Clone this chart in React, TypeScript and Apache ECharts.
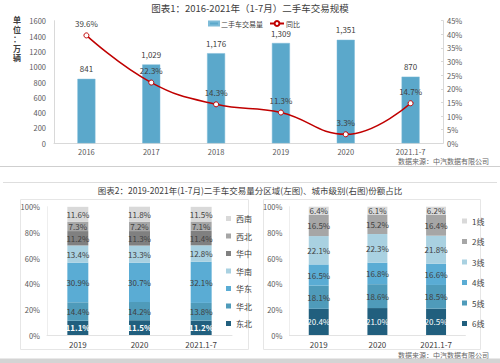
import React, { useEffect, useRef } from "react";
import * as echarts from "echarts";

const years = ["2016", "2017", "2018", "2019", "2020", "2021.1-7"];
const volume = [841, 1029, 1176, 1309, 1351, 870];
const yoy = [39.6, 22.3, 14.3, 11.3, 3.3, 14.7];

const shareCats = ["2019", "2020", "2021.1-7"];
const dongbei = [11.1, 11.5, 11.2];
const huabei = [14.4, 14.2, 13.8];
const huadong = [30.9, 30.7, 32.1];
const huanan = [13.4, 13.3, 12.8];
const huazhong = [11.2, 11.3, 11.4];
const xibei = [7.3, 7.2, 7.1];
const xinan = [11.6, 11.8, 11.5];

const tier6 = [20.4, 21.0, 20.5];
const tier5 = [18.1, 18.6, 18.5];
const tier4 = [16.5, 16.8, 16.6];
const tier3 = [22.1, 22.3, 21.8];
const tier2 = [16.5, 15.2, 16.4];
const tier1 = [6.4, 6.1, 6.2];

const FONT = "'Noto Sans CJK SC', 'Noto Sans', sans-serif";
const AX = "#595959";
const TXT = "#404040";

const regionSeries = [
  { name: "东北", data: dongbei, color: "#215f7e", label: "#ffffff", bold: true },
  { name: "华北", data: huabei, color: "#4f9bba", label: TXT, bold: false },
  { name: "华东", data: huadong, color: "#5aacd4", label: TXT, bold: false },
  { name: "华南", data: huanan, color: "#a9d1e1", label: TXT, bold: false },
  { name: "华中", data: huazhong, color: "#808080", label: TXT, bold: false },
  { name: "西北", data: xibei, color: "#a6a6a6", label: TXT, bold: false },
  { name: "西南", data: xinan, color: "#d9d9d9", label: TXT, bold: false },
];

const tierSeries = [
  { name: "6线", data: tier6, color: "#215f7e", label: "#ffffff", bold: false },
  { name: "5线", data: tier5, color: "#4f9bba", label: TXT, bold: false },
  { name: "4线", data: tier4, color: "#5aacd4", label: TXT, bold: false },
  { name: "3线", data: tier3, color: "#a9d1e1", label: TXT, bold: false },
  { name: "2线", data: tier2, color: "#a6a6a6", label: TXT, bold: false },
  { name: "1线", data: tier1, color: "#d9d9d9", label: TXT, bold: false },
];

function pctAxes(gridIndex: number) {
  return {
    x: {
      type: "category",
      gridIndex,
      data: shareCats,
      axisLine: { show: true, lineStyle: { color: "#e3e3e3" } },
      axisTick: { show: false },
      axisLabel: { color: TXT, fontSize: 8, fontFamily: FONT, margin: 5 },
    },
    y: {
      type: "value",
      gridIndex,
      min: 0,
      max: 100,
      interval: 20,
      axisLine: { show: true, lineStyle: { color: "#eeeeee" } },
      axisTick: { show: false },
      splitLine: { show: false },
      axisLabel: { color: AX, fontSize: 7.5, fontFamily: FONT, formatter: "{value}%", margin: 7 },
    },
  };
}

function stackSeries(list: any[], axisIndex: number, stack: string) {
  return list.map((s) => ({
    name: s.name,
    type: "bar",
    stack,
    xAxisIndex: axisIndex,
    yAxisIndex: axisIndex,
    barWidth: "34%",
    data: s.data,
    itemStyle: { color: s.color },
    label: {
      show: true,
      position: "inside",
      color: s.label,
      fontSize: 8,
      fontWeight: s.bold ? "bold" : "normal",
      fontFamily: FONT,
      formatter: (p: any) => Number(p.value).toFixed(1) + "%",
    },
  }));
}

export default function App() {
  const ref = useRef<HTMLDivElement>(null);
  useEffect(() => {
    if (!ref.current) return;
    const chart = echarts.init(ref.current, undefined, { renderer: "svg" });
    const leftAx = pctAxes(1);
    const rightAx = pctAxes(2);
    const option: any = {
      animation: false,
      backgroundColor: "#ffffff",
      textStyle: { fontFamily: FONT },
      grid: [
        { left: 54, right: 57, top: 20.7, bottom: 219.7, containLabel: false },
        { left: 47, right: 268, top: 206.7, bottom: 28, containLabel: false },
        { left: 289.4, right: 34.6, top: 206.7, bottom: 28, containLabel: false },
      ],
      legend: [
        {
          left: 203,
          top: 15,
          data: ["二手车交易量"],
          itemWidth: 10,
          itemHeight: 4,
          itemGap: 2,
          icon: "rect",
          textStyle: { fontSize: 7, color: TXT, fontFamily: FONT, padding: [0, 0, 0, -3] },
        },
        {
          left: 264,
          top: 15,
          data: ["同比"],
          itemWidth: 14,
          itemHeight: 6,
          textStyle: { fontSize: 7, color: TXT, fontFamily: FONT, padding: [0, 0, 0, -3] },
        },
        {
          orient: "vertical",
          left: 221,
          top: 208.5,
          data: regionSeries.map((s) => s.name).reverse(),
          icon: "rect",
          itemWidth: 5,
          itemHeight: 5,
          itemGap: 7.5,
          textStyle: { fontSize: 8, color: TXT, fontFamily: FONT, lineHeight: 10 },
        },
        {
          orient: "vertical",
          left: 457,
          top: 211,
          data: tierSeries.map((s) => s.name).reverse(),
          icon: "rect",
          itemWidth: 5,
          itemHeight: 5,
          itemGap: 10.5,
          textStyle: { fontSize: 8, color: TXT, fontFamily: FONT, lineHeight: 10 },
        },
      ],
      xAxis: [
        {
          type: "category",
          gridIndex: 0,
          data: years,
          axisLine: { show: true, lineStyle: { color: "#d9d9d9" } },
          axisTick: { show: false },
          axisLabel: { color: AX, fontSize: 7.5, fontFamily: FONT, margin: 4 },
        },
        leftAx.x,
        rightAx.x,
      ],
      yAxis: [
        {
          type: "value",
          gridIndex: 0,
          min: 0,
          max: 1600,
          interval: 200,
          axisLine: { show: true, lineStyle: { color: "#d9d9d9" } },
          axisTick: { show: false },
          splitLine: { show: false },
          axisLabel: {
            color: AX,
            fontSize: 7.5,
            fontFamily: FONT,
            margin: 8,
            formatter: (v: number) => String(v),
          },
        },
        leftAx.y,
        rightAx.y,
        {
          type: "value",
          gridIndex: 0,
          position: "right",
          min: 0,
          max: 45,
          interval: 5,
          axisLine: { show: true, lineStyle: { color: "#d9d9d9" } },
          axisTick: { show: true, inside: true, length: 2, lineStyle: { color: "#d9d9d9" } },
          splitLine: { show: false },
          axisLabel: { color: AX, fontSize: 7.5, fontFamily: FONT, formatter: "{value}%", margin: 4 },
        },
      ],
      series: [
        {
          name: "二手车交易量",
          type: "bar",
          xAxisIndex: 0,
          yAxisIndex: 0,
          data: volume,
          barWidth: 18,
          itemStyle: { color: "#5ba8cb", borderColor: "#7dbbd8", borderWidth: 0.5 },
          label: {
            show: true,
            position: "top",
            distance: 6,
            color: TXT,
            fontSize: 8,
            fontFamily: FONT,
            formatter: (p: any) => Number(p.value).toLocaleString("en-US"),
          },
        },
        {
          name: "同比",
          type: "line",
          xAxisIndex: 0,
          yAxisIndex: 3,
          data: yoy,
          smooth: 0.45,
          symbol: "circle",
          symbolSize: 5,
          lineStyle: { color: "#c00000", width: 1.5 },
          itemStyle: { color: "#ffffff", borderColor: "#c00000", borderWidth: 1 },
          label: {
            show: true,
            position: "top",
            distance: 5,
            color: TXT,
            fontSize: 8,
            fontFamily: FONT,
            formatter: (p: any) => Number(p.value).toFixed(1) + "%",
          },
          z: 5,
        },
        ...stackSeries(regionSeries, 1, "region"),
        ...stackSeries(tierSeries, 2, "tier"),
      ],
      graphic: [
        {
          type: "text",
          left: "center",
          top: 3,
          style: {
            text: "图表1：2016-2021年（1-7月）二手车交易规模",
            fontSize: 9.5,
            fill: TXT,
            fontFamily: FONT,
          },
        },
        {
          type: "text",
          x: 17,
          y: 15,
          style: {
            text: "单\n位\n：\n万\n辆",
            fontSize: 8,
            lineHeight: 9.5,
            fontWeight: "bold",
            fill: TXT,
            align: "center",
            fontFamily: FONT,
          },
        },
        {
          type: "text",
          x: 489,
          y: 161,
          style: {
            text: "数据来源：中汽数据有限公司",
            fontSize: 7,
            fill: "#666666",
            align: "right",
            verticalAlign: "middle",
            fontFamily: FONT,
          },
        },
        {
          type: "line",
          shape: { x1: 0, y1: 166.5, x2: 500, y2: 166.5 },
          style: { stroke: "#cfcfcf", lineWidth: 1 },
        },
        {
          type: "line",
          shape: { x1: 3, y1: 182.5, x2: 497, y2: 182.5 },
          style: { stroke: "#dedede", lineWidth: 1 },
        },
        {
          type: "text",
          left: "center",
          top: 186,
          style: {
            text: "图表2：2019-2021年(1-7月)二手车交易量分区域(左图)、城市级别(右图)份额占比",
            fontSize: 8.5,
            fill: TXT,
            fontFamily: FONT,
          },
        },
        {
          type: "rect",
          shape: { x: 20.5, y: 199.5, width: 228, height: 150 },
          style: { fill: "none", stroke: "#e6e6e6", lineWidth: 1 },
          z: -1,
        },
        {
          type: "rect",
          shape: { x: 263.5, y: 199.5, width: 217, height: 150 },
          style: { fill: "none", stroke: "#e6e6e6", lineWidth: 1 },
          z: -1,
        },
        {
          type: "text",
          x: 489,
          y: 354.5,
          style: {
            text: "数据来源：中汽数据有限公司",
            fontSize: 7,
            fill: "#666666",
            align: "right",
            verticalAlign: "middle",
            fontFamily: FONT,
          },
        },
        {
          type: "rect",
          shape: { x: 0, y: 358.5, width: 500, height: 4.5 },
          style: { fill: "#d4d4d4" },
        },
      ],
    };
    chart.setOption(option);
    return () => chart.dispose();
  }, []);
  return (
    <div
      ref={ref}
      style={{ position: "fixed", left: 0, top: 0, width: 500, height: 363, background: "#fff" }}
    />
  );
}
